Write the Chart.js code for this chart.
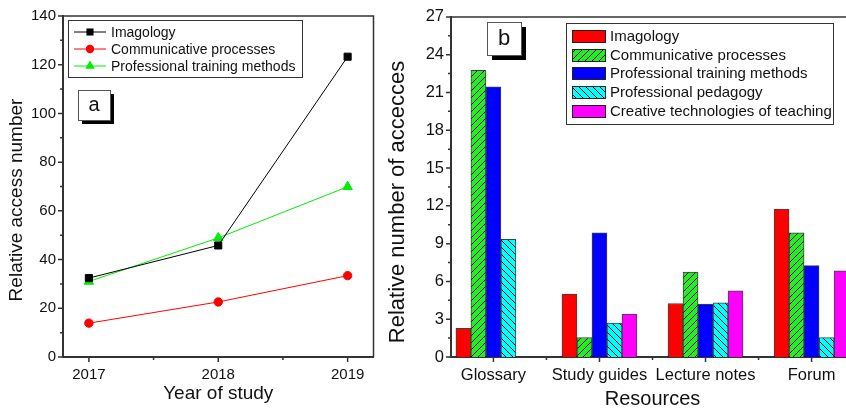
<!DOCTYPE html>
<html>
<head>
<meta charset="utf-8">
<script src="https://cdn.jsdelivr.net/npm/chart.js@4.4.1/dist/chart.umd.min.js"></script>
<style>
html, body { margin: 0; padding: 0; background: #fff; width: 846px; height: 411px; overflow: hidden; }
#wrapA { position: absolute; left: 0; top: 0; width: 380px; height: 411px; }
#wrapB { position: absolute; left: 380px; top: 0; width: 520px; height: 411px; }
</style>
</head>
<body>
<div id="wrapA"><canvas id="chartA" width="380" height="411"></canvas></div>
<div id="wrapB"><canvas id="chartB" width="520" height="411"></canvas></div>
<script>
// panel a: access per year
const years = [2017, 2018, 2019];
const imagologyA = [32.4, 45.8, 123.3];
const communicativeA = [13.9, 22.6, 33.4];
const trainingA = [31.0, 48.9, 69.9];

// panel b: access per resource
const resources = ['Glossary', 'Study guides', 'Lecture notes', 'Forum'];
const imagologyB = [2.27, 5.0, 4.25, 11.75];
const communicativeB = [22.75, 1.55, 6.75, 9.85];
const trainingB = [21.45, 9.85, 4.2, 7.25];
const pedagogyB = [9.35, 2.7, 4.3, 1.55];
const creativeB = [0, 3.4, 5.25, 6.85];

Chart.defaults.font.family = '"Liberation Sans", Arial, sans-serif';
Chart.defaults.color = '#111';

const AXIS = '#333';

function hatch(bg, rising) {
    const c = document.createElement('canvas');
    c.width = 7; c.height = 7;
    const g = c.getContext('2d');
    g.fillStyle = bg;
    g.fillRect(0, 0, 7, 7);
    g.strokeStyle = '#000';
    g.lineWidth = 1;
    g.beginPath();
    if (rising) {
        g.moveTo(-1, 8); g.lineTo(8, -1);
        g.moveTo(-1, 1); g.lineTo(1, -1);
        g.moveTo(6, 8); g.lineTo(8, 6);
    } else {
        g.moveTo(-1, -1); g.lineTo(8, 8);
        g.moveTo(-1, 6); g.lineTo(1, 8);
        g.moveTo(6, -1); g.lineTo(8, 1);
    }
    g.stroke();
    return g.createPattern(c, 'repeat');
}

function marker(ctx, style, x, y, r, color) {
    ctx.fillStyle = color;
    ctx.beginPath();
    if (style === 'rect') {
        const s = r * Math.SQRT1_2;
        ctx.rect(x - s, y - s, 2 * s, 2 * s);
    } else if (style === 'triangle') {
        ctx.moveTo(x, y - r);
        ctx.lineTo(x + 0.866 * r, y + 0.5 * r);
        ctx.lineTo(x - 0.866 * r, y + 0.5 * r);
        ctx.closePath();
    } else {
        ctx.arc(x, y, r, 0, Math.PI * 2);
    }
    ctx.fill();
}

// top/right frame plus major and minor tick marks
function drawFrame(chart) {
    const { ctx, chartArea: a, scales: { x, y } } = chart;
    ctx.save();
    ctx.strokeStyle = AXIS;
    ctx.lineWidth = 1.5;
    ctx.beginPath();
    ctx.moveTo(a.left, a.top);
    ctx.lineTo(a.right, a.top);
    ctx.lineTo(a.right, a.bottom);
    ctx.stroke();

    const mids = vals => vals.slice(1).map((v, i) => (v + vals[i]) / 2);
    const yv = y.ticks.map(t => t.value);
    const xv = x.ticks.map(t => t.value);
    ctx.beginPath();
    yv.forEach(v => { const p = y.getPixelForValue(v); ctx.moveTo(a.left, p); ctx.lineTo(a.left - 5, p); });
    mids(yv).forEach(v => { const p = y.getPixelForValue(v); ctx.moveTo(a.left, p); ctx.lineTo(a.left - 3, p); });
    xv.forEach(v => { const p = x.getPixelForValue(v); ctx.moveTo(p, a.bottom); ctx.lineTo(p, a.bottom + 5); });
    mids(xv).forEach(v => { const p = x.getPixelForValue(v); ctx.moveTo(p, a.bottom); ctx.lineTo(p, a.bottom + 3); });
    ctx.stroke();
    ctx.restore();
}

function drawTag(ctx, text, x, y, w, h, off, size) {
    ctx.save();
    ctx.fillStyle = '#000';
    ctx.fillRect(x + off, y + off, w, h);
    ctx.fillStyle = '#fff';
    ctx.fillRect(x, y, w, h);
    ctx.strokeStyle = '#555';
    ctx.lineWidth = 1;
    ctx.strokeRect(x + 0.5, y + 0.5, w, h);
    ctx.fillStyle = '#111';
    ctx.font = size + 'px "Liberation Sans", Arial, sans-serif';
    ctx.textAlign = 'center';
    ctx.textBaseline = 'middle';
    ctx.fillText(text, x + w / 2, y + h / 2);
    ctx.restore();
}

function drawYTitle(ctx, text, x, y, size) {
    ctx.save();
    ctx.translate(x, y);
    ctx.rotate(-Math.PI / 2);
    ctx.fillStyle = '#111';
    ctx.font = size + 'px "Liberation Sans", Arial, sans-serif';
    ctx.textAlign = 'center';
    ctx.textBaseline = 'middle';
    ctx.fillText(text, 0, 0);
    ctx.restore();
}

const pts = vals => years.map((x, i) => ({ x, y: vals[i] }));
const bars = vals => resources.map((r, i) => ({ x: i + 1, y: vals[i] }));

// Panel a
new Chart(document.getElementById('chartA'), {
    type: 'line',
    data: {
        datasets: [
            { label: 'Imagology', data: pts(imagologyA), borderColor: '#000', backgroundColor: '#000', pointStyle: 'rect', pointRadius: 5 },
            { label: 'Communicative processes', data: pts(communicativeA), borderColor: '#ff0000', backgroundColor: '#ff0000', pointStyle: 'circle', pointRadius: 4.2 },
            { label: 'Professional training methods', data: pts(trainingA), borderColor: '#00ee00', backgroundColor: '#00ee00', pointStyle: 'triangle', pointRadius: 5.5 }
        ]
    },
    options: {
        responsive: false,
        animation: false,
        events: [],
        layout: { padding: { left: 0, right: 6, top: 16, bottom: 0 } },
        elements: { line: { borderWidth: 1, tension: 0 }, point: { borderWidth: 1 } },
        plugins: { legend: { display: false }, tooltip: { enabled: false } },
        scales: {
            x: {
                type: 'linear', min: 2016.8, max: 2019.2,
                grid: { display: false, drawTicks: false },
                border: { display: true, color: AXIS, width: 2 },
                ticks: { stepSize: 1, includeBounds: false, padding: 9, autoSkip: false, maxRotation: 0, font: { size: 15 }, callback: v => String(v) },
                title: { display: true, text: 'Year of study', font: { size: 19 }, padding: { top: 0, bottom: 6 } },
                afterFit: s => { s.height = 54; }
            },
            y: {
                min: 0, max: 140,
                grid: { display: false, drawTicks: false },
                border: { display: true, color: AXIS, width: 2 },
                ticks: { stepSize: 20, padding: 7, font: { size: 15 } },
                afterFit: s => { s.width = 63; }
            }
        }
    },
    plugins: [{
        id: 'decorA',
        afterDraw(chart) {
            const ctx = chart.ctx;
            drawFrame(chart);
            drawYTitle(ctx, 'Relative access number', 17, 200, 19);
            // legend box
            ctx.save();
            ctx.fillStyle = '#fff';
            ctx.fillRect(68, 20, 234, 57);
            ctx.strokeStyle = '#333';
            ctx.lineWidth = 1;
            ctx.strokeRect(68.5, 20.5, 234, 57);
            ctx.font = '14px "Liberation Sans", Arial, sans-serif';
            ctx.textBaseline = 'middle';
            chart.data.datasets.forEach((ds, i) => {
                const yy = 32 + i * 17;
                ctx.strokeStyle = ds.borderColor;
                ctx.beginPath();
                ctx.moveTo(74, yy);
                ctx.lineTo(106, yy);
                ctx.stroke();
                marker(ctx, ds.pointStyle, 90, yy, ds.pointRadius, ds.backgroundColor);
                ctx.fillStyle = '#111';
                ctx.fillText(ds.label, 111, yy + 1);
            });
            ctx.restore();
            drawTag(ctx, 'a', 78, 90, 32, 30, 4, 20);
        }
    }]
});

// Panel b
new Chart(document.getElementById('chartB'), {
    type: 'bar',
    data: {
        datasets: [
            { label: 'Imagology', data: bars(imagologyB), backgroundColor: '#ff0000' },
            { label: 'Communicative processes', data: bars(communicativeB), backgroundColor: hatch('#22ee22', true) },
            { label: 'Professional training methods', data: bars(trainingB), backgroundColor: '#0000ff' },
            { label: 'Professional pedagogy', data: bars(pedagogyB), backgroundColor: hatch('#00ffff', false) },
            { label: 'Creative technologies of teaching', data: bars(creativeB), backgroundColor: '#ff00ff' }
        ]
    },
    options: {
        responsive: false,
        animation: false,
        events: [],
        layout: { padding: { left: 0, right: 46, top: 16, bottom: 0 } },
        elements: { bar: { borderWidth: 1, borderColor: 'rgba(0,0,0,0.75)' } },
        barThickness: 15,
        plugins: { legend: { display: false }, tooltip: { enabled: false } },
        scales: {
            x: {
                type: 'linear', min: 0.6, max: 4.4, offset: false,
                grid: { display: false, drawTicks: false, offset: false },
                border: { display: true, color: AXIS, width: 2 },
                ticks: { stepSize: 1, includeBounds: false, padding: 9, autoSkip: false, maxRotation: 0, font: { size: 16.5 }, callback: v => resources[Math.round(v) - 1] || '' },
                title: { display: true, text: 'Resources', font: { size: 20 }, padding: { top: 0, bottom: 0 } },
                afterFit: s => { s.height = 54; }
            },
            y: {
                min: 0, max: 27,
                grid: { display: false, drawTicks: false },
                border: { display: true, color: AXIS, width: 2 },
                ticks: { stepSize: 3, padding: 7, font: { size: 16.5 } },
                afterFit: s => { s.width = 71; }
            }
        }
    },
    plugins: [{
        id: 'decorB',
        afterDraw(chart) {
            const ctx = chart.ctx;
            drawFrame(chart);
            drawYTitle(ctx, 'Relative number of accecces', 18, 202, 22);
            // legend box
            ctx.save();
            ctx.fillStyle = '#fff';
            ctx.fillRect(186, 23, 267, 101);
            ctx.strokeStyle = '#333';
            ctx.lineWidth = 1;
            ctx.strokeRect(186.5, 23.5, 267, 101);
            ctx.font = '15px "Liberation Sans", Arial, sans-serif';
            ctx.textBaseline = 'middle';
            chart.data.datasets.forEach((ds, i) => {
                const yy = Math.round(36 + i * 18.7);
                ctx.fillStyle = ds.backgroundColor;
                ctx.fillRect(192, yy - 6, 33, 12);
                ctx.strokeStyle = '#222';
                ctx.strokeRect(192.5, yy - 5.5, 33, 12);
                ctx.fillStyle = '#111';
                ctx.fillText(ds.label, 230, yy + 1);
            });
            ctx.restore();
            drawTag(ctx, 'b', 107, 22, 34, 33, 5, 22);
        }
    }]
});
</script>
</body>
</html>
